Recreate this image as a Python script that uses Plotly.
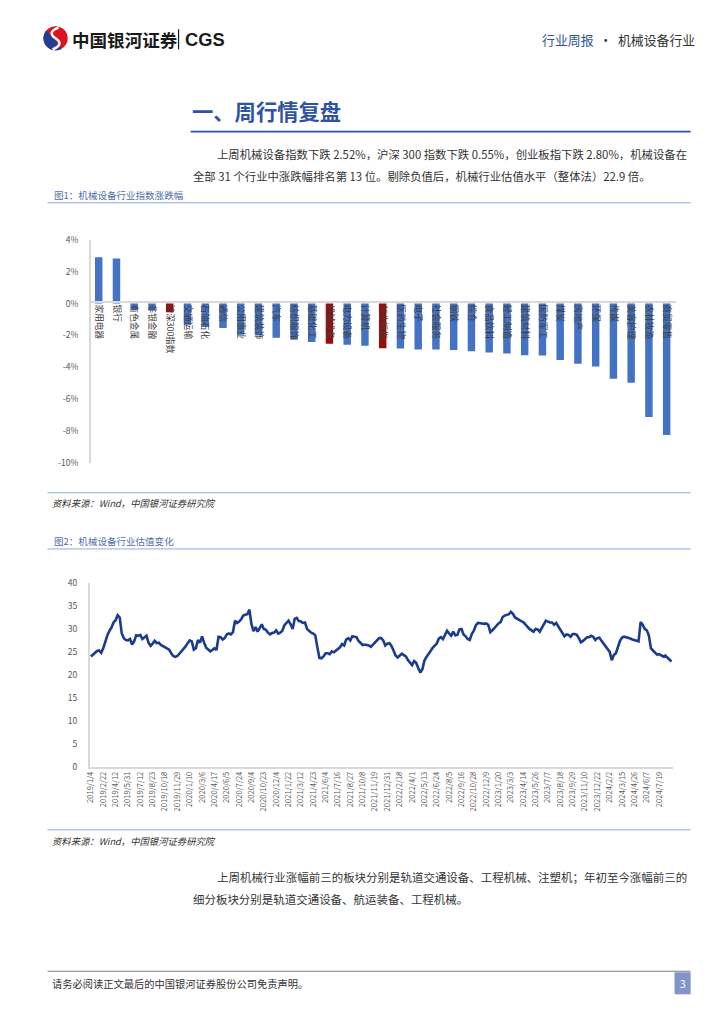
import math
import plotly.graph_objects as go

# Figure drawn 16px smaller than the window (browser keeps an 8px body margin);
# a small empirical correction (K, CX, CY) maps page coordinates of the
# reference onto the photographed output.
PAGE_W, PAGE_H = 724, 1024
M = 8
W, H = PAGE_W - 2 * M, PAGE_H - 2 * M
K, CX, CY = 0.985, 8.0, 9.0
def px(x): return (x / K - CX - M) / W
def py(y): return 1 - (y / K - CY - M) / H
def fs(s): return s / K

FONT = "Noto Sans CJK SC"

# ---------------- data: chart 1 (weekly change, %) ----------------
industries = ["家用电器", "银行", "有色金属", "非银金融", "沪深300指数", "交通运输", "石油石化", "通信",
              "公用事业", "建筑装饰", "汽车", "纺织服饰", "基础化工", "机械设备", "电力设备", "计算机",
              "创业板指", "医药生物", "电子", "社会服务", "钢铁", "综合", "食品饮料", "轻工制造",
              "建筑材料", "国防军工", "煤炭", "房地产", "环保", "传媒", "美容护理", "农林牧渔", "商贸零售"]
changes = [2.92, 2.84, -0.41, -0.42, -0.55, -1.33, -1.47, -1.53,
           -1.96, -2.00, -2.14, -2.27, -2.41, -2.52, -2.59, -2.65,
           -2.80, -2.82, -2.88, -2.88, -2.92, -2.99, -3.07, -3.13,
           -3.25, -3.27, -3.54, -3.78, -3.95, -4.73, -4.97, -7.13, -8.26]
highlight = ["沪深300指数", "机械设备", "创业板指"]
y1_ticks = [4, 2, 0, -2, -4, -6, -8, -10]
y1_text = ["4%", "2%", "0%", "-2%", "-4%", "-6%", "-8%", "-10%"]

# ---------------- data: chart 2 (PE, weekly) ----------------
pe_tick_dates = ["2019/1/4", "2019/2/22", "2019/4/12", "2019/5/31", "2019/7/12", "2019/8/23", "2019/10/18",
                 "2019/11/29", "2020/1/10", "2020/3/6", "2020/4/17", "2020/6/5", "2020/7/24", "2020/9/4",
                 "2020/10/23", "2020/12/4", "2021/1/22", "2021/3/12", "2021/4/23", "2021/6/4", "2021/7/16",
                 "2021/8/27", "2021/10/8", "2021/11/19", "2021/12/31", "2022/2/18", "2022/4/1", "2022/5/13",
                 "2022/6/24", "2022/8/5", "2022/9/16", "2022/10/28", "2022/12/9", "2023/1/20", "2023/3/3",
                 "2023/4/14", "2023/5/26", "2023/7/7", "2023/8/18", "2023/9/29", "2023/11/10", "2023/12/22",
                 "2024/2/2", "2024/3/15", "2024/4/26", "2024/6/7", "2024/7/19"]
pe_values = [
    24.0, 24.4, 24.9, 25.2, 25.3, 24.8, 25.8, 27.3, 28.6, 29.6,
    30.3, 31.4, 31.9, 33.0, 32.5, 29.0, 28.0, 27.6, 27.5, 27.8,
    26.6, 27.3, 28.6, 28.5, 28.7, 27.8, 28.2, 28.5, 27.0, 26.3,
    26.8, 27.4, 26.9, 27.0, 26.5, 26.2, 26.0, 25.8, 25.5, 24.7,
    24.1, 23.9, 24.1, 24.6, 25.1, 25.6, 26.2, 26.9, 27.5, 27.3,
    25.5, 25.8, 27.6, 27.0, 28.4, 27.0, 25.9, 25.5, 25.1, 25.4,
    25.8, 25.4, 28.3, 28.2, 27.7, 28.0, 28.8, 29.0, 28.8, 29.3,
    31.8, 31.3, 31.6, 32.1, 32.9, 33.1, 33.2, 34.2, 31.0, 29.5,
    30.4, 29.4, 30.3, 31.0, 30.0, 29.8, 29.2, 28.8, 29.1, 29.2,
    29.7, 29.0, 29.2, 29.6, 30.8, 31.4, 31.8, 31.0, 30.0, 32.2,
    32.4, 31.7, 31.6, 31.3, 31.4, 30.0, 29.5, 29.2, 29.0, 28.6,
    26.0, 23.7, 23.6, 24.0, 24.7, 24.7, 24.5, 25.1, 24.9, 25.3,
    25.7, 26.0, 26.7, 26.4, 27.7, 28.0, 27.5, 28.4, 28.3, 28.2,
    27.4, 26.9, 26.5, 26.6, 26.5, 26.4, 26.1, 26.6, 27.2, 27.6,
    28.0, 28.0, 27.5, 26.4, 26.8, 26.9, 26.3, 25.3, 24.2, 23.8,
    24.3, 24.6, 24.3, 24.0, 23.2, 22.5, 22.1, 23.0, 22.6, 21.5,
    20.5, 21.2, 23.1, 23.9, 24.7, 25.2, 25.9, 26.3, 26.8, 27.9,
    28.2, 27.8, 28.6, 29.6, 29.0, 28.5, 29.4, 28.6, 28.7, 29.9,
    30.0, 28.8, 28.4, 27.8, 27.6, 28.9, 29.6, 30.8, 31.3, 31.3,
    31.2, 31.1, 31.2, 30.9, 29.3, 29.7, 30.2, 30.8, 31.2, 31.5,
    32.6, 32.9, 33.1, 33.2, 33.7, 33.3, 32.5, 32.2, 31.9, 31.7,
    31.5, 31.1, 30.5, 30.0, 29.6, 29.4, 30.0, 29.9, 29.4, 30.3,
    31.1, 31.8, 31.6, 31.4, 31.4, 30.9, 31.3, 30.5, 29.8, 29.2,
    28.4, 28.8, 28.7, 28.3, 28.9, 28.9, 28.7, 28.0, 27.1, 27.4,
    27.8, 28.2, 28.2, 28.5, 28.3, 27.6, 28.0, 28.1, 27.4, 26.8,
    26.1, 25.7, 25.0, 23.2, 24.3, 24.7, 26.2, 27.4, 28.1, 28.3,
    28.2, 28.1, 27.9, 27.7, 27.6, 27.4, 27.3, 31.5, 30.9, 30.0,
    29.7, 28.6, 25.8, 25.3, 24.8, 24.4, 24.5, 24.2, 24.0, 24.2,
    23.7, 23.4, 22.9]
label_every = 6
y2_ticks = [0, 5, 10, 15, 20, 25, 30, 35, 40]

# ---------------- texts ----------------
para1 = ["上周机械设备指数下跌 2.52%，沪深 300 指数下跌 0.55%，创业板指下跌 2.80%，机械设备在",
         "全部 31 个行业中涨跌幅排名第 13 位。剔除负值后，机械行业估值水平（整体法）22.9 倍。"]
para2 = ["上周机械行业涨幅前三的板块分别是轨道交通设备、工程机械、注塑机；年初至今涨幅前三的",
         "细分板块分别是轨道交通设备、航运装备、工程机械。"]
cap1 = "图1：机械设备行业指数涨跌幅"
cap2 = "图2：机械设备行业估值变化"
source = "资料来源：Wind，中国银河证券研究院"
footer = "请务必阅读正文最后的中国银河证券股份公司免责声明。"
header_tag = "行业周报"
header_industry = "机械设备行业"

BLUE = "#2E54A1"
AXIS = "#D9D9D9"
TICK = "#595959"

fig = go.Figure()
bar_colors = ["#9A0B0B" if c in highlight else "#4472C4" for c in industries]
fig.add_trace(go.Bar(x=industries, y=changes, marker=dict(color=bar_colors, line=dict(width=0)),
                     width=0.42, xaxis="x", yaxis="y", hoverinfo="x+y"))
pe_x = list(range(len(pe_values)))
fig.add_trace(go.Scatter(x=pe_x, y=pe_values, mode="lines",
                         line=dict(color="#1A3C8F", width=2.6), xaxis="x2", yaxis="y2"))

tickvals2 = [i * label_every for i in range(len(pe_tick_dates))]

fig.update_layout(
    width=W, height=H, margin=dict(l=0, r=0, t=0, b=0, pad=0),
    paper_bgcolor="white", plot_bgcolor="rgba(0,0,0,0)", showlegend=False,
    font=dict(family=FONT, color="#333333"),
    xaxis=dict(domain=[px(92), px(673)], anchor="free", position=py(303), type="category",
               range=[-0.5, len(industries) - 0.5], tickmode="array", tickvals=industries,
               ticktext=industries, tickangle=90, showline=True, linecolor=AXIS, linewidth=1.5,
               ticks="", showgrid=False, zeroline=False,
               tickfont=dict(size=fs(8.5), color="#404040", family=FONT)),
    yaxis=dict(domain=[py(463), py(241)], anchor="free", position=px(92), range=[-10, 4],
               tickmode="array", tickvals=y1_ticks, ticktext=y1_text, showline=True,
               linecolor=AXIS, linewidth=1.5, showgrid=False, zeroline=False, ticks="",
               ticklabelstandoff=9, tickfont=dict(size=fs(8.5), color=TICK, family=FONT)),
    xaxis2=dict(domain=[px(92), px(670)], anchor="y2", range=[-0.5, len(pe_values) - 0.5],
                tickmode="array", tickvals=tickvals2, ticktext=pe_tick_dates, tickangle=-90,
                showline=True, linecolor=AXIS, linewidth=2, showgrid=False, zeroline=False,
                ticks="", tickfont=dict(size=fs(7.5), color=TICK, family=FONT)),
    yaxis2=dict(domain=[py(766), py(583)], anchor="x2", range=[0, 40], tickmode="array",
                tickvals=y2_ticks, showline=True, linecolor=AXIS, linewidth=1.5, showgrid=False,
                zeroline=False, ticks="", ticklabelstandoff=9,
                tickfont=dict(size=fs(8.5), color=TICK, family=FONT)),
)

ann = []
def text(x, y, s, size=11, color="#333333", anchor="left", family=FONT, yanchor="middle"):
    ann.append(dict(x=px(x), y=py(y), xref="paper", yref="paper", text=s, showarrow=False,
                    xanchor=anchor, yanchor=yanchor,
                    font=dict(size=fs(size), color=color, family=family)))

# header
text(72, 41, "<b>中国银河证券</b>", size=17.3, color="#1a1a1a")
text(184, 41, "<b>CGS</b>", size=18, color="#1a1a1a", family="Liberation Sans")
text(694, 41, f"<span style='color:{BLUE}'>{header_tag}</span>  ·  {header_industry}",
     size=12.7, color="#333333", anchor="right")
# title
text(191, 112, "<b>一、周行情复盘</b>", size=21, color=BLUE)
# paragraph 1
text(216, 155, para1[0], size=11.2)
text(192, 177, para1[1], size=11.2)
# captions & sources
text(54, 196, cap1, size=9.4, color="#4F6FAE")
text(52, 503, "<i>" + source + "</i>", size=9.2, color="#333333")
text(54, 541, cap2, size=9.4, color="#4F6FAE")
text(52, 840, "<i>" + source + "</i>", size=9.2, color="#333333")
# paragraph 2
text(216, 876, para2[0], size=11.3)
text(192, 898, para2[1], size=11.3)
# footer
text(52, 982, footer, size=10.1, color="#333333")
text(680, 982, "3", size=10, color="white", anchor="center")

shapes = []
def hline(x0, x1, y, color, w):
    shapes.append(dict(type="line", xref="paper", yref="paper", x0=px(x0), x1=px(x1),
                       y0=py(y), y1=py(y), line=dict(color=color, width=w)))

hline(192, 688, 133, BLUE, 1.6)
hline(50, 688, 204, "#8FAADC", 1)
hline(50, 688, 493, "#8FAADC", 1)
hline(50, 688, 549, "#8FAADC", 1)
hline(50, 688, 829, "#8FAADC", 1)
hline(50, 688, 970, "#7F7F7F", 1)
# header separator
shapes.append(dict(type="line", xref="paper", yref="paper", x0=px(180), x1=px(180),
                   y0=py(31), y1=py(51), line=dict(color="#1a1a1a", width=1.2)))
# page number box
shapes.append(dict(type="rect", xref="paper", yref="paper", x0=px(672), x1=px(688),
                   y0=py(993), y1=py(971), fillcolor="#8096C8", line=dict(width=0)))
# logo: red disc, blue lower-left swoosh, white S-curve
cx, cy, r = 58, 40, 12
shapes.append(dict(type="circle", xref="paper", yref="paper", x0=px(cx - r), x1=px(cx + r),
                   y0=py(cy + r), y1=py(cy - r), fillcolor="#D9161E", line=dict(width=0)))
pts = []
for k in range(0, 161, 10):
    a = math.radians(60 + k)
    pts.append((cx + r * math.cos(a), cy + r * math.sin(a)))
path = "M " + " L ".join(f"{px(x):.5f},{py(y):.5f}" for x, y in pts)
path += f" Q {px(cx - 1):.5f},{py(cy + 1):.5f} {px(pts[0][0]):.5f},{py(pts[0][1]):.5f} Z"
shapes.append(dict(type="path", xref="paper", yref="paper", path=path,
                   fillcolor="#1F3F95", line=dict(width=0)))
spath = (f"M {px(cx + 3):.5f},{py(cy - 11):.5f} Q {px(cx - 9):.5f},{py(cy - 6):.5f} "
         f"{px(cx):.5f},{py(cy):.5f} Q {px(cx + 9):.5f},{py(cy + 6):.5f} {px(cx - 3):.5f},{py(cy + 11):.5f}")
shapes.append(dict(type="path", xref="paper", yref="paper", path=spath,
                   line=dict(color="white", width=2.5)))

fig.update_layout(annotations=ann, shapes=shapes)

fig.write_html("out.html", config={"displayModeBar": False})
